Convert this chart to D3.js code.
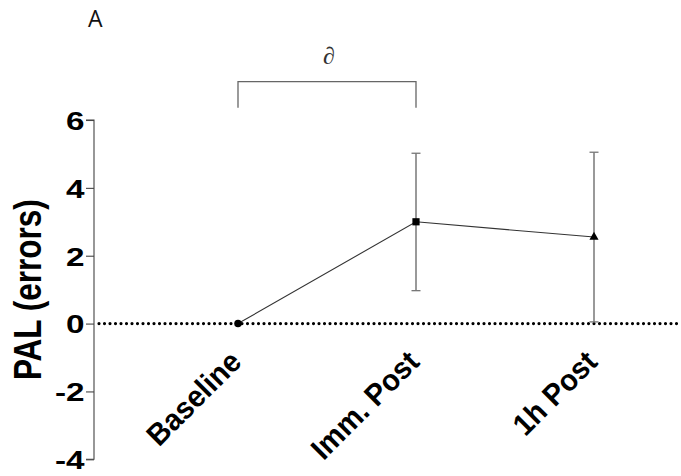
<!DOCTYPE html>
<html><head><meta charset="utf-8">
<script src="https://cdn.jsdelivr.net/npm/d3@7"></script>
<style>body{margin:0;background:#fff}</style>
</head><body>
<svg id="c" width="681" height="476"></svg>
<script>
const categories = ["Baseline", "Imm. Post", "1h Post"];
const means = [0, 3.0, 2.55];
const errLow = [0, 0.97, 0.05];
const errHigh = [0, 5.02, 5.05];
const shapes = ["circle", "square", "triangle"];
const yTicks = [-4, -2, 0, 2, 4, 6];
const yLabel = "PAL (errors)";
const sigMark = "∂";
const panel = "A";

const svg = d3.select("#c");
const x = d3.scalePoint().domain(categories).range([238, 594]);
const y = d3.scaleLinear().domain([-4, 6]).range([459.3, 120]);
const axisX = 94;
const FONT = "Liberation Sans, Arial, sans-serif";

// Y axis
const ya = svg.append("g").attr("transform", `translate(${axisX},0)`)
  .call(d3.axisLeft(y).tickValues(yTicks).tickSize(8).tickFormat(d => String(d)));
ya.select(".domain").attr("stroke", "#444").attr("stroke-width", 1.1)
  .attr("d", `M-8,${y(6)}H0V${y(-4)}H-8`);
ya.selectAll(".tick line").attr("stroke", "#444").attr("stroke-width", 1.1);
ya.selectAll(".tick text")
  .attr("x", null).attr("dy", "0.36em")
  .attr("transform", "translate(-9.5,0) scale(1.28,1)")
  .attr("text-anchor", "end")
  .attr("font-family", FONT).attr("font-weight", "bold").attr("font-size", 26).attr("fill", "#000");

// Zero dotted line
svg.append("line").attr("x1", axisX + 5).attr("x2", 681).attr("y1", y(0)).attr("y2", y(0))
  .attr("stroke", "#000").attr("stroke-width", 3.2).attr("stroke-dasharray", "0 5.5")
  .attr("stroke-linecap", "round");

// Y label
svg.append("text").attr("transform", `translate(40.5,${(y(6)+y(-4))/2}) rotate(-90) scale(1,1.24)`)
  .attr("text-anchor", "middle").attr("font-family", FONT)
  .attr("font-weight", "bold").attr("font-size", 31.5).text(yLabel);

// X labels
categories.forEach((c) => {
  svg.append("text").attr("transform", `translate(${x(c)+5},${y(0)+40}) rotate(-45) scale(1.05,1.1)`)
    .attr("text-anchor", "end").attr("font-family", FONT)
    .attr("font-weight", "bold").attr("font-size", 27.5).text(c);
});

// Error bars
categories.forEach((c, i) => {
  if (errHigh[i] === errLow[i]) return;
  const g = svg.append("g");
  g.append("line").attr("x1", x(c)).attr("x2", x(c)).attr("y1", y(errLow[i])).attr("y2", y(errHigh[i]))
    .attr("stroke", "#555").attr("stroke-width", 1.2);
  [errLow[i], errHigh[i]].forEach(v => {
    g.append("line").attr("x1", x(c)-4.5).attr("x2", x(c)+4.5).attr("y1", y(v)).attr("y2", y(v))
      .attr("stroke", "#777").attr("stroke-width", 1.3);
  });
});

// Line
svg.append("path").datum(means.map((m, i) => [x(categories[i]), y(m)]))
  .attr("d", d3.line()).attr("fill", "none").attr("stroke", "#333").attr("stroke-width", 1.1);

// Markers
const symMap = {circle: d3.symbolCircle, square: d3.symbolSquare, triangle: d3.symbolTriangle};
const symSize = {circle: 45, square: 52, triangle: 36};
categories.forEach((c, i) => {
  svg.append("path").attr("transform", `translate(${x(c)},${y(means[i])})`)
    .attr("d", d3.symbol().type(symMap[shapes[i]]).size(symSize[shapes[i]])()).attr("fill", "#000");
});

// Significance bracket
const by = 81.7;
svg.append("path").attr("d", `M${x(categories[0])},${by+26}V${by}H${x(categories[1])}V${by+26}`)
  .attr("fill", "none").attr("stroke", "#666").attr("stroke-width", 1.3);
svg.append("text").attr("x", (x(categories[0])+x(categories[1]))/2 + 2).attr("y", 64)
  .attr("text-anchor", "middle").attr("font-family", "Liberation Serif, DejaVu Serif, serif").attr("font-style", "italic")
  .attr("font-size", 24).attr("fill", "#333").text(sigMark);

// Panel label
svg.append("text").attr("x", 88).attr("y", 26.7).attr("font-family", "Open Sans, DejaVu Sans, sans-serif")
  .attr("font-size", 23).attr("fill", "#111").text(panel);
</script>
</body></html>
